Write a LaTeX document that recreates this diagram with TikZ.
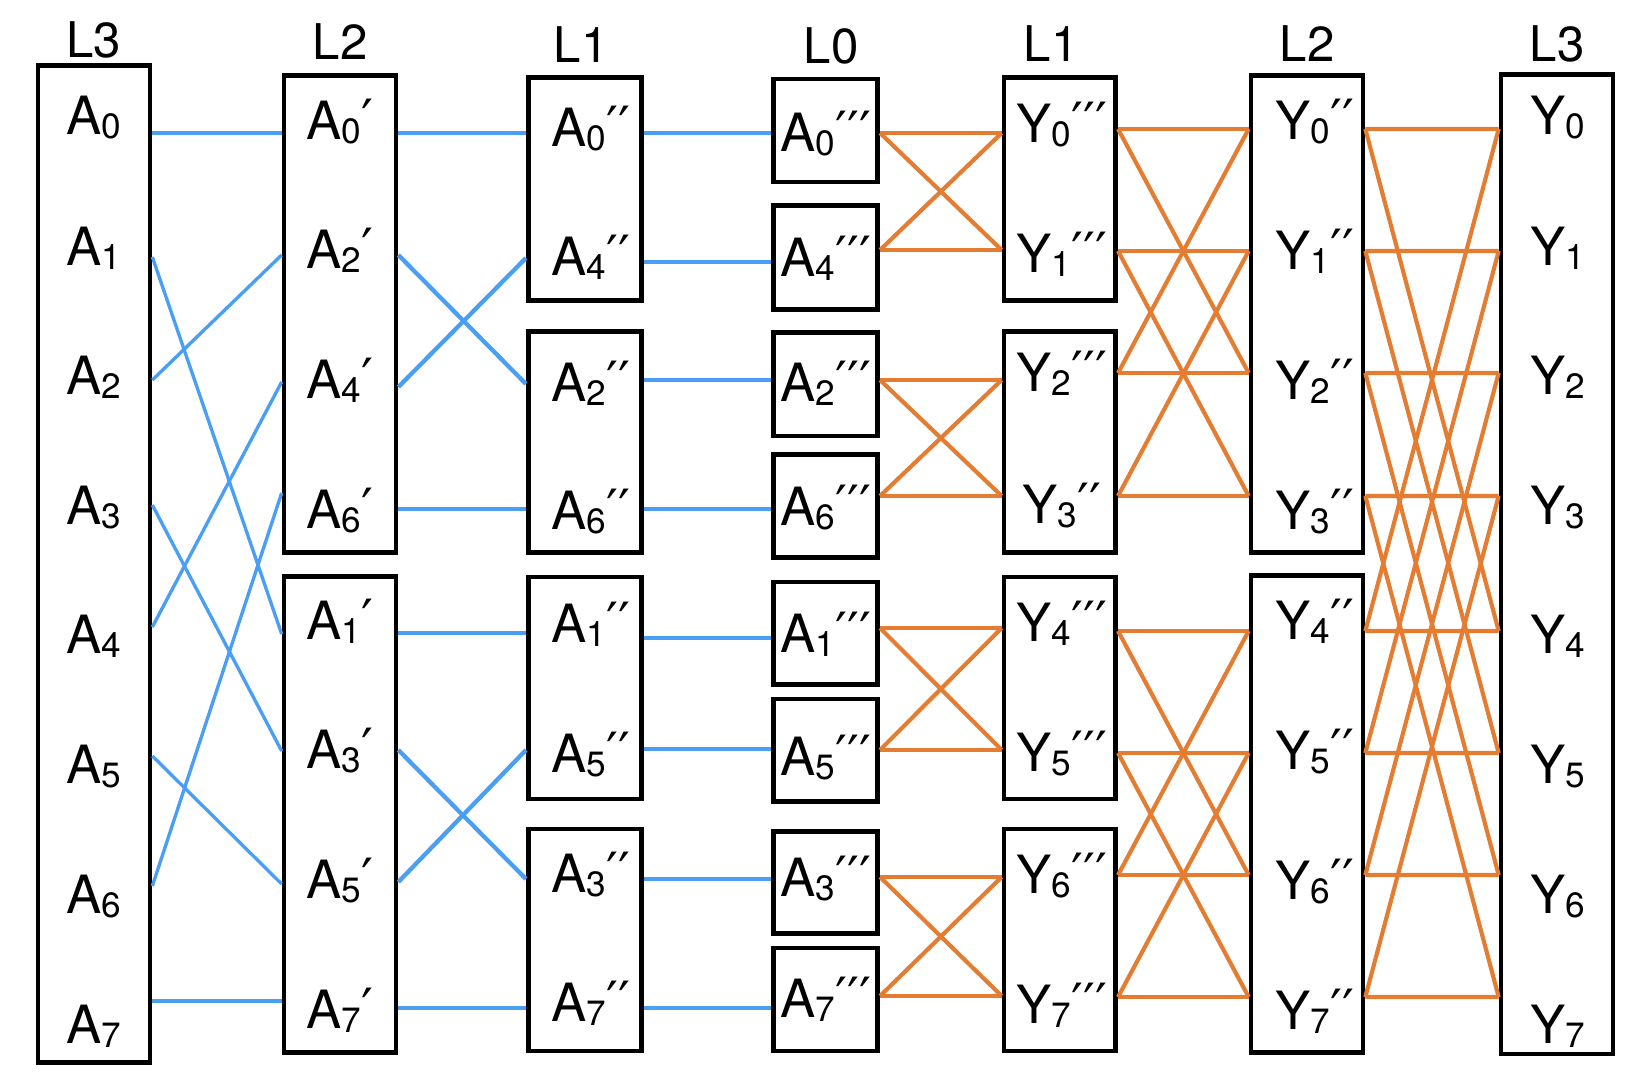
\documentclass[tikz,border=0pt]{standalone}
\usepackage{fontspec}
\setmainfont{TeX Gyre Heros}
\newfontfamily\primefont{DejaVu Sans}
\usetikzlibrary{fit}

\definecolor{wireblue}{HTML}{4A9FF5}
\definecolor{wireorange}{HTML}{E47D32}

\newcommand{\idx}[1]{\raisebox{-0.9pt}{\fontsize{10}{10}\selectfont #1}}
\newcommand{\prm}[1]{\raisebox{0.6pt}{\primefont\fontsize{15}{16}\selectfont #1}}
\newcommand{\ent}[3]{#1\idx{#2}\prm{#3}}

\tikzset{
  box/.style={draw, line width=1.33pt, inner sep=0pt},
  entry/.style={anchor=base, inner sep=0pt, font=\fontsize{15}{18}\selectfont},
  layer/.style={anchor=base, inner sep=0pt, font=\fontsize{14}{16}\selectfont},
  thin wire/.style={wireblue, line width=0.95pt},
  blue wire/.style={wireblue, line width=1.22pt},
  orange wire/.style={wireorange, line width=1.18pt}
}

\begin{document}
\begin{tikzpicture}[x=0.1mm, y=-0.1mm]
\useasboundingbox (0,0) rectangle (1652,1074);

\node[box, fit={(38,65.6) (150,1062.4)}] (boxA3) {};
\node[box, fit={(284,75.6) (396,552.7)}] (boxA2u) {};
\node[box, fit={(284,576.3) (396,1052.4)}] (boxA2d) {};
\foreach \n/\t/\b in {p/77.6/300.4, q/331.3/552.7, r/577/799, s/829/1051} {
  \node[box, fit={(528.3,\t) (641.7,\b)}] (boxA1\n) {};
  \node[box, fit={(1004,\t) (1115.7,\b)}] (boxY1\n) {};
}
\foreach \k/\t/\b in {0/79/182, 4/205.6/309.4, 2/332.3/436, 6/454.6/557.7,
                      1/582/684.4, 5/699/801.7, 3/831.3/933.4, 7/948/1051}
  \node[box, fit={(773.3,\t) (877.7,\b)}] (boxA0-\k) {};
\node[box, fit={(1251,75.6) (1363,552.7)}] (boxY2u) {};
\node[box, fit={(1251,575.6) (1363,1052.7)}] (boxY2d) {};
\node[box, fit={(1501,74.3) (1613,1054)}] (boxY3) {};

\node[layer] (hA3) at (94,58) {L3};
\node[layer] (hA2) at (340,60) {L2};
\node[layer] (hA1) at (581,63) {L1};
\node[layer] (hA0) at (831,64) {L0};
\node[layer] (hY1) at (1051,62) {L1};
\node[layer] (hY2) at (1307,62) {L2};
\node[layer] (hY3) at (1557,62) {L3};

\foreach \k/\y in {0/135,1/266,2/395,3/525,4/654,5/784,6/914,7/1044} {
  \node[entry] (a3-\k) at (94,\y) {\ent{A}{\k}{}};
  \node[entry] (y3-\k) at (1558,\y) {\ent{Y}{\k}{}};
}
\foreach \k/\y in {0/140,2/269,4/399,6/529,1/640,3/769,5/899,7/1029}
  \node[entry] (a2-\k) at (340,\y) {\ent{A}{\k}{′}};
\foreach \k/\y in {0/140,1/270,2/400,3/530,4/640,5/770,6/900,7/1030}
  \node[entry] (y2-\k) at (1315,\y) {\ent{Y}{\k}{′′}};
\foreach \k/\y in {0/147,4/276,2/402,6/530,1/643,5/773,3/893,7/1022}
  \node[entry] (a1-\k) at (591,\y) {\ent{A}{\k}{′′}};
\foreach \k/\y in {0/152,4/277,2/402,6/526,1/653,5/776,3/897,7/1018}
  \node[entry] (a0-\k) at (826,\y) {\ent{A}{\k}{′′′}};
\foreach \k/\y/\p in {0/143/′′′,1/273/′′′,2/392/′′′,3/524/′′,4/642/′′′,5/772/′′′,6/894/′′′,7/1024/′′′}
  \node[entry] (y1-\k) at (1062,\y) {\ent{Y}{\k}{\p}};

\foreach \k/\y in {0/133,1/257,2/380,3/505,4/627,5/756,6/886,7/1001}
  \coordinate (a3r\k) at (boxA3.east |- 0,\y);
\foreach \k/\y in {0/133,2/255,4/382,6/493,1/634,3/751,5/884,7/1001}
  \coordinate (a2l\k) at (boxA2u.west |- 0,\y);
\foreach \k/\y in {0/133,2/255,4/387,6/509,1/633,3/750,5/882,7/1008}
  \coordinate (a2r\k) at (boxA2u.east |- 0,\y);
\foreach \k/\y in {0/133,4/258,2/384,6/509,1/633,5/750,3/879,7/1008}
  \coordinate (a1l\k) at (boxA1p.west |- 0,\y);
\foreach \k/\y in {0/133,4/262,2/380,6/509,1/638,5/749,3/879,7/1008} {
  \coordinate (a1r\k) at (boxA1p.east |- 0,\y);
  \coordinate (a0l\k) at (boxA0-0.west |- 0,\y);
}
\foreach \k/\y in {0/133,4/250,2/380,6/496,1/628,5/750,3/877,7/996}
  \coordinate (a0r\k) at (boxA0-0.east |- 0,\y);
\foreach \k/\y in {0/133,1/250,2/380,3/496,4/628,5/750,6/877,7/996}
  \coordinate (y1l\k) at (boxY1p.west |- 0,\y);
\foreach \k/\y in {0/129,1/251,2/373,3/496,4/631,5/753,6/875,7/997} {
  \coordinate (y1r\k) at (boxY1p.east |- 0,\y);
  \coordinate (y2l\k) at (boxY2u.west |- 0,\y);
  \coordinate (y2r\k) at (boxY2u.east |- 0,\y);
  \coordinate (y3l\k) at (boxY3.west |- 0,\y);
}

\foreach \k in {0,...,7} {
  \draw[thin wire] (a3r\k) -- (a2l\k);
  \draw[blue wire] (a2r\k) -- (a1l\k);
  \draw[blue wire] (a1r\k) -- (a0l\k);
}
\foreach \s/\t in {0/0,0/1,4/0,4/1,2/2,2/3,6/2,6/3,1/4,1/5,5/4,5/5,3/6,3/7,7/6,7/7}
  \draw[orange wire] (a0r\s) -- (y1l\t);
\foreach \s/\t in {0/0,0/2,1/1,1/3,2/0,2/2,3/1,3/3,4/4,4/6,5/5,5/7,6/4,6/6,7/5,7/7}
  \draw[orange wire] (y1r\s) -- (y2l\t);
\foreach \s in {0,...,7} {
  \pgfmathtruncatemacro\t{mod(\s+4,8)}
  \draw[orange wire] (y2r\s) -- (y3l\s) (y2r\s) -- (y3l\t);
}
\end{tikzpicture}
\end{document}
